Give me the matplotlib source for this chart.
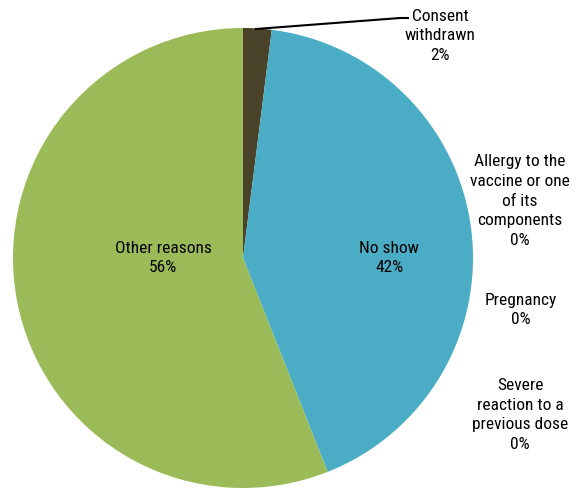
import matplotlib
matplotlib.use("Agg")
from matplotlib import pyplot as plt

reasons = ["Consent\nwithdrawn", "No show",
           "Allergy to the\nvaccine or one\nof its\ncomponents",
           "Pregnancy", "Severe\nreaction to a\nprevious dose", "Other reasons"]
shares = [2, 42, 0, 0, 0, 56]
colors = ["#4a4229", "#4bacc6", "#f79646", "#8064a2", "#c0504d", "#9bbb59"]

W, H = 581, 488
plt.rcParams["font.family"] = ["Roboto Condensed", "Archivo Narrow", "Liberation Sans"]

fig = plt.figure(figsize=(W / 100, H / 100), dpi=100)
ax = fig.add_axes([0, 0, 1, 1])

cx, cy, r = 243, H - 258, 230
ax.pie(shares, colors=colors, startangle=90, counterclock=False,
       center=(cx, cy), radius=r, frame=True,
       wedgeprops=dict(linewidth=0))
ax.set_xlim(0, W)
ax.set_ylim(0, H)
ax.set_aspect("equal")
ax.axis("off")

def lab(i, x, y):
    ax.text(x, H - y, "%s\n%d%%" % (reasons[i], shares[i]), ha="center", va="center",
            fontsize=12.5, linespacing=1.4, color="#000")

lab(0, 440, 36)
lab(1, 389, 258)
lab(2, 520, 201)
lab(3, 521, 310)
lab(4, 520, 415)
lab(5, 163, 258)

# leader line for the thin slice
ax.plot([256, 400, 408], [H - 29, H - 18, H - 18], color="#000", lw=1.5)

fig.savefig("out.png", dpi=100)
